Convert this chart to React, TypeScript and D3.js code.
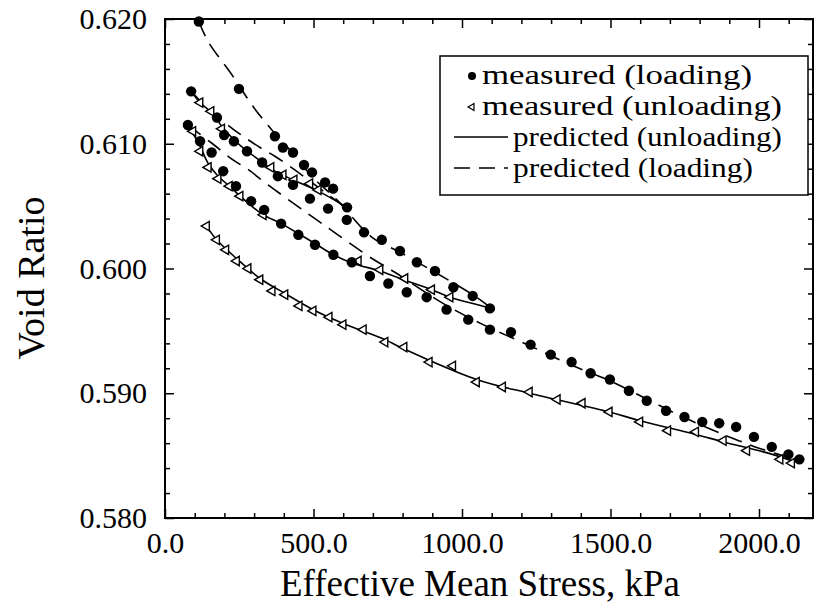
import React, { useEffect, useRef } from 'react';
import * as d3 from 'd3';

const width = 815;
const height = 609;
const font = '"Liberation Serif", "Times New Roman", serif';

// [effective mean stress kPa, void ratio]
// measured (loading): first loading, first reloading, second reloading
const loadingFirst = [
  [114, 0.6198], [249, 0.6144], [370, 0.6106], [397, 0.6097], [431, 0.6093],
  [468, 0.6083], [495, 0.6077], [539, 0.6069], [566, 0.6064], [613, 0.6049],
];
const loadingSecond = [
  [88, 0.6142], [175, 0.6121], [199, 0.6107], [232, 0.6102], [276, 0.6094],
  [327, 0.6085], [380, 0.6074], [431, 0.6067], [488, 0.6056], [549, 0.6048],
  [612, 0.6039], [670, 0.6029], [730, 0.6023], [791, 0.6014], [848, 0.6005],
  [909, 0.5998], [971, 0.5985], [1036, 0.5978], [1094, 0.5968],
];
const loadingThird = [
  [77, 0.6115], [118, 0.6102], [157, 0.6093], [196, 0.6078], [239, 0.6066],
  [290, 0.6054], [334, 0.6047], [391, 0.6036], [449, 0.6027], [505, 0.6019],
  [567, 0.6011], [629, 0.6005], [690, 0.5994], [752, 0.5988], [814, 0.5981],
  [881, 0.5977], [948, 0.5967], [1021, 0.5959], [1094, 0.5951], [1165, 0.5949],
  [1231, 0.5939], [1299, 0.5931], [1369, 0.5925], [1433, 0.5916], [1498, 0.5911],
  [1562, 0.5902], [1622, 0.5894], [1687, 0.5886], [1749, 0.5881], [1809, 0.5877],
  [1866, 0.5876], [1923, 0.5873], [1983, 0.5865], [2043, 0.5857], [2099, 0.5851],
  [2136, 0.5847],
];

// measured (unloading)
const unloadingFirst = [
  [118, 0.6133], [155, 0.6126], [191, 0.6112], [357, 0.6081], [398, 0.6075],
  [435, 0.6071], [488, 0.6068], [516, 0.6063],
];
const unloadingSecond = [
  [94, 0.6110], [118, 0.6094], [146, 0.6081], [179, 0.6072], [217, 0.6066],
  [253, 0.6058], [331, 0.6043], [651, 0.6006], [724, 0.5999], [808, 0.5992],
  [898, 0.5983], [960, 0.5977],
];
const unloadingThird = [
  [140, 0.6034], [174, 0.6023], [205, 0.6015], [241, 0.6006], [280, 0.6000],
  [320, 0.5991], [361, 0.5982], [404, 0.5979], [452, 0.5970], [499, 0.5966],
  [553, 0.5961], [600, 0.5955], [668, 0.5951], [741, 0.5941], [805, 0.5937],
  [890, 0.5925], [969, 0.5922], [1049, 0.5909], [1137, 0.5905], [1227, 0.5901],
  [1321, 0.5895], [1405, 0.5892], [1496, 0.5885], [1599, 0.5877], [1693, 0.5870],
  [1787, 0.5869], [1880, 0.5862], [1959, 0.5854], [2071, 0.5847], [2110, 0.5844],
];

// predicted (loading), dashed
const predictedLoadingFirst = [
  [114, 0.6198], [145, 0.6182], [229, 0.6154], [296, 0.6130], [360, 0.6111],
  [428, 0.6093], [498, 0.6073], [579, 0.6055], [697, 0.6025], [791, 0.6013],
  [909, 0.5997], [1036, 0.5979], [1094, 0.5969],
];
const predictedLoadingSecond = [
  [88, 0.6142], [150, 0.6127], [228, 0.6112], [275, 0.6104], [320, 0.6097],
  [370, 0.6090], [431, 0.6080], [494, 0.6069], [555, 0.6058], [613, 0.6048],
];
const predictedLoadingThird = [
  [77, 0.6115], [160, 0.6100], [229, 0.6087], [276, 0.6080], [347, 0.6067],
  [428, 0.6053], [505, 0.6040], [582, 0.6027], [697, 0.6008], [774, 0.5997],
  [936, 0.5972], [1071, 0.5955], [1229, 0.5938], [1364, 0.5923], [1498, 0.5910],
  [1600, 0.5898], [1700, 0.5886], [1800, 0.5875], [1900, 0.5865], [2000, 0.5856],
  [2135, 0.5846],
];

// predicted (unloading), solid
const predictedUnloadingFirst = [
  [88, 0.6142], [118, 0.6133], [161, 0.6124], [191, 0.6114], [233, 0.6103],
  [277, 0.6094], [328, 0.6085], [370, 0.6078], [432, 0.6071], [516, 0.6062],
  [613, 0.6049],
];
const predictedUnloadingSecond = [
  [77, 0.6115], [95, 0.6108], [118, 0.6098], [146, 0.6084], [179, 0.6074],
  [217, 0.6066], [253, 0.6058], [292, 0.6050], [331, 0.6043], [391, 0.6036],
  [449, 0.6028], [505, 0.6020], [567, 0.6011], [634, 0.6004], [724, 0.5998],
  [791, 0.5992], [898, 0.5983], [960, 0.5977], [1083, 0.5969], [1094, 0.5968],
];
const predictedUnloadingThird = [
  [140, 0.6034], [174, 0.6023], [241, 0.6008], [320, 0.5992], [404, 0.5980],
  [499, 0.5967], [600, 0.5956], [741, 0.5943], [791, 0.5937], [1049, 0.5911],
  [1227, 0.5900], [1496, 0.5885], [1599, 0.5878], [1787, 0.5867], [1880, 0.5861],
  [2015, 0.5853], [2110, 0.5846],
];

const xTicks = [0, 500, 1000, 1500, 2000];
const yTicks = [0.58, 0.59, 0.6, 0.61, 0.62];
const legendLabels = [
  'measured (loading)',
  'measured (unloading)',
  'predicted (unloading)',
  'predicted (loading)',
];

const xScale = d3.scaleLinear().domain([0, 2000]).range([165, 759]);
const yScale = d3.scaleLinear().domain([0.58, 0.62]).range([518, 19]);
const xMax = xScale.invert(813);

const xMinor = d3.range(0, xMax, 100).filter(v => v % 500 !== 0);
const yMinor = d3.range(0, 21).map(i => 0.58 + i * 0.002).filter((v, i) => i % 5 !== 0);

const lineGenerator = d3.line()
  .x(d => xScale(d[0]))
  .y(d => yScale(d[1]))
  .curve(d3.curveCatmullRom.alpha(0.5));

const triangle = d3.symbol().type(d3.symbolTriangle).size(38)();
const legendTriangle = d3.symbol().type(d3.symbolTriangle).size(20)();

function App() {
  const bottomRef = useRef(null);
  const topRef = useRef(null);
  const leftRef = useRef(null);
  const rightRef = useRef(null);

  useEffect(() => {
    const styleAxis = (sel) => {
      sel.select('.domain').remove();
      sel.attr('font-family', font).attr('font-size', 30);
      sel.selectAll('line').attr('stroke', '#000').attr('stroke-width', 1.5);
      sel.selectAll('text').attr('fill', '#000');
    };

    // major + minor ticks, pointing inward on all four sides
    const bottom = d3.select(bottomRef.current);
    bottom.append('g').call(d3.axisBottom(xScale).tickValues(xTicks).tickSizeInner(-9)
      .tickSizeOuter(0).tickPadding(14).tickFormat(d3.format('.1f'))).call(styleAxis);
    bottom.append('g').call(d3.axisBottom(xScale).tickValues(xMinor).tickSizeInner(-5)
      .tickSizeOuter(0).tickFormat(() => '')).call(styleAxis);

    const top = d3.select(topRef.current);
    top.append('g').call(d3.axisTop(xScale).tickValues(xTicks).tickSizeInner(-9)
      .tickSizeOuter(0).tickFormat(() => '')).call(styleAxis);
    top.append('g').call(d3.axisTop(xScale).tickValues(xMinor).tickSizeInner(-5)
      .tickSizeOuter(0).tickFormat(() => '')).call(styleAxis);

    const left = d3.select(leftRef.current);
    left.append('g').call(d3.axisLeft(yScale).tickValues(yTicks).tickSizeInner(-9)
      .tickSizeOuter(0).tickPadding(18).tickFormat(d3.format('.3f'))).call(styleAxis);
    left.append('g').call(d3.axisLeft(yScale).tickValues(yMinor).tickSizeInner(-5)
      .tickSizeOuter(0).tickFormat(() => '')).call(styleAxis);

    const right = d3.select(rightRef.current);
    right.append('g').call(d3.axisRight(yScale).tickValues(yTicks).tickSizeInner(-9)
      .tickSizeOuter(0).tickFormat(() => '')).call(styleAxis);
    right.append('g').call(d3.axisRight(yScale).tickValues(yMinor).tickSizeInner(-5)
      .tickSizeOuter(0).tickFormat(() => '')).call(styleAxis);

    return () => {
      [bottom, top, left, right].forEach(s => s.selectAll('*').remove());
    };
  }, []);

  const x0 = xScale(0);
  const x1 = 813;
  const y0 = yScale(0.62);
  const y1 = yScale(0.58);

  const dashedLines = [predictedLoadingFirst, predictedLoadingSecond, predictedLoadingThird];
  const solidLines = [predictedUnloadingFirst, predictedUnloadingSecond, predictedUnloadingThird];
  const circles = [...loadingFirst, ...loadingSecond, ...loadingThird];
  const triangles = [...unloadingFirst, ...unloadingSecond, ...unloadingThird];

  return (
    <div style={{ position: 'fixed', left: 0, top: 0 }}>
      <svg width={width} height={height} style={{ display: 'block', background: '#fff' }}>
        {/* predicted curves */}
        {solidLines.map((d, i) => (
          <path key={'s' + i} d={lineGenerator(d)} fill='none' stroke='#000' strokeWidth='1.6' />
        ))}
        {dashedLines.map((d, i) => (
          <path key={'d' + i} d={lineGenerator(d)} fill='none' stroke='#000'
            strokeWidth='1.6' strokeDasharray='16 9' />
        ))}

        {/* measured points */}
        {triangles.map((d, i) => (
          <path key={'t' + i} d={triangle}
            transform={`translate(${xScale(d[0])},${yScale(d[1])}) rotate(-90)`}
            fill='#fff' stroke='#000' strokeWidth='1.4' />
        ))}
        {circles.map((d, i) => (
          <circle key={'c' + i} cx={xScale(d[0])} cy={yScale(d[1])} r='5.2' fill='#000' />
        ))}

        {/* frame */}
        <rect x={x0} y={y0} width={x1 - x0} height={y1 - y0} fill='none' stroke='#000' strokeWidth='2' />
        <g ref={bottomRef} transform={`translate(0,${y1})`} />
        <g ref={topRef} transform={`translate(0,${y0})`} />
        <g ref={leftRef} transform={`translate(${x0},0)`} />
        <g ref={rightRef} transform={`translate(${x1},0)`} />

        {/* axis titles */}
        <text x='480' y='596' textAnchor='middle' fontFamily={font} fontSize='37'>
          Effective Mean Stress, kPa
        </text>
        <text transform='translate(44,278) rotate(-90)' textAnchor='middle' fontFamily={font} fontSize='38'>
          Void Ratio
        </text>

        {/* legend */}
        <g>
          <rect x='440' y='56' width='368' height='139' fill='#fff' stroke='#000' strokeWidth='1.5' />
          <circle cx='472' cy='76' r='4' fill='#000' />
          <path d={legendTriangle} transform='translate(472,107) rotate(-90)' fill='#fff' stroke='#000' strokeWidth='1.2' />
          <line x1='454' x2='508' y1='137' y2='137' stroke='#000' strokeWidth='1.6' />
          <line x1='454' x2='508' y1='168' y2='168' stroke='#000' strokeWidth='1.6' strokeDasharray='16 9' />
          {legendLabels.map((label, i) => (
            <text key={label} x={i < 2 ? 482 : 513} y={84 + i * 31} fontFamily={font} fontSize='28'
              textLength={[270, 300, 269, 240][i]} lengthAdjust='spacingAndGlyphs'>
              {label}
            </text>
          ))}
        </g>
      </svg>
    </div>
  );
}

export default App;
